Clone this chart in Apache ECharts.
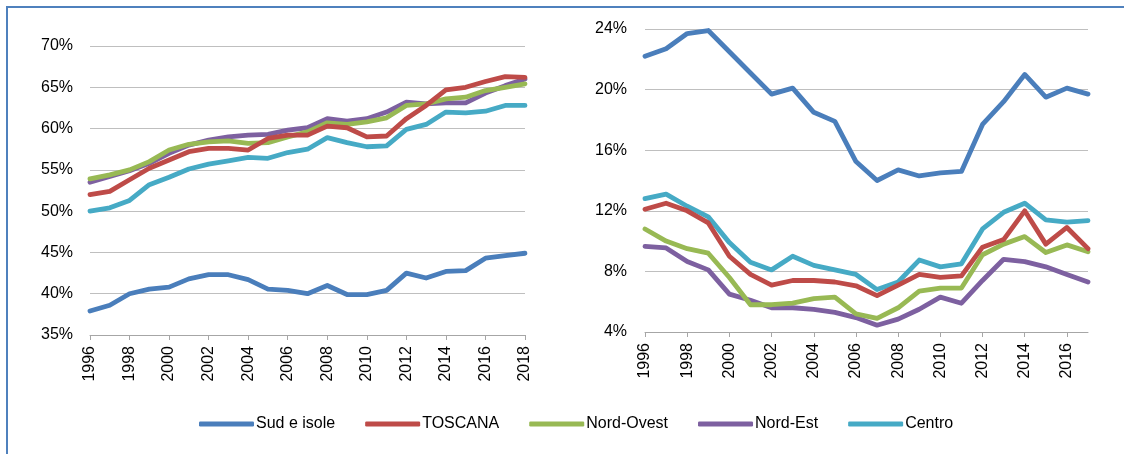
<!DOCTYPE html>
<html>
<head>
<meta charset="utf-8">
<script src="https://cdn.jsdelivr.net/npm/echarts@6/dist/echarts.min.js"></script>
<style>
  html, body { margin: 0; padding: 0; background: #fff; }
  #chart { width: 1124px; height: 454px; }
  #frame { position: absolute; left: 6px; top: 6px; width: 1130px; height: 460px;
           border-left: 2px solid #4F81BD; border-top: 2px solid #4F81BD; pointer-events: none; }
</style>
</head>
<body>
<div id="chart"></div>
<div id="frame"></div>
<script>
(function () {

    var FONT = "'Liberation Sans', Arial, sans-serif";

    // left panel: 1996-2018
    var yearsLeft = ['1996', '1997', '1998', '1999', '2000', '2001', '2002', '2003', '2004', '2005',
        '2006', '2007', '2008', '2009', '2010', '2011', '2012', '2013', '2014', '2015', '2016', '2017', '2018'];
    var sudLeft = [37.9, 38.6, 40.0, 40.55, 40.8, 41.8, 42.3, 42.3, 41.7, 40.55, 40.4, 40.0, 41.0,
        39.9, 39.9, 40.4, 42.5, 41.9, 42.7, 42.8, 44.3, 44.6, 44.9];
    var toscanaLeft = [52.0, 52.4, 53.8, 55.2, 56.2, 57.2, 57.6, 57.6, 57.4, 58.8, 59.2, 59.2, 60.3,
        60.1, 59.0, 59.1, 61.2, 62.8, 64.7, 65.0, 65.7, 66.3, 66.2];
    var ovestLeft = [53.9, 54.4, 55.0, 56.0, 57.4, 58.1, 58.4, 58.5, 58.2, 58.3, 59.0, 59.6, 60.7,
        60.5, 60.8, 61.3, 62.8, 63.0, 63.6, 63.8, 64.6, 65.0, 65.4];
    var estLeft = [53.5, 54.2, 54.9, 55.8, 57.0, 58.0, 58.6, 59.0, 59.2, 59.3, 59.8, 60.1, 61.2,
        60.9, 61.2, 62.0, 63.2, 63.0, 63.1, 63.1, 64.3, 65.2, 66.0];
    var centroLeft = [50.0, 50.4, 51.3, 53.2, 54.1, 55.1, 55.7, 56.1, 56.5, 56.4, 57.1, 57.5, 58.9,
        58.3, 57.8, 57.9, 59.9, 60.5, 62.0, 61.9, 62.1, 62.8, 62.8];

    // right panel: 1996-2017
    var yearsRight = ['1996', '1997', '1998', '1999', '2000', '2001', '2002', '2003', '2004', '2005',
        '2006', '2007', '2008', '2009', '2010', '2011', '2012', '2013', '2014', '2015', '2016', '2017'];
    var sudRight = [22.2, 22.7, 23.7, 23.9, 22.5, 21.1, 19.7, 20.1, 18.5, 17.9, 15.25, 14.0, 14.7,
        14.3, 14.5, 14.6, 17.7, 19.2, 21.0, 19.5, 20.1, 19.7];
    var toscanaRight = [12.1, 12.5, 12.0, 11.2, 9.0, 7.8, 7.1, 7.4, 7.4, 7.3, 7.05, 6.4, 7.1,
        7.8, 7.6, 7.7, 9.6, 10.1, 12.0, 9.8, 10.9, 9.5];
    var ovestRight = [10.8, 10.0, 9.5, 9.2, 7.6, 5.8, 5.8, 5.9, 6.2, 6.3, 5.2, 4.9, 5.6,
        6.7, 6.9, 6.9, 9.1, 9.8, 10.3, 9.25, 9.75, 9.3];
    var estRight = [9.65, 9.55, 8.65, 8.1, 6.5, 6.1, 5.6, 5.6, 5.5, 5.3, 4.95, 4.45, 4.85,
        5.5, 6.3, 5.9, 7.4, 8.8, 8.65, 8.3, 7.8, 7.3];
    var centroRight = [12.8, 13.1, 12.3, 11.6, 9.9, 8.6, 8.1, 9.0, 8.4, 8.1, 7.8, 6.8, 7.3,
        8.75, 8.3, 8.5, 10.8, 11.9, 12.5, 11.4, 11.25, 11.35];

    var names = ['Sud e isole', 'TOSCANA', 'Nord-Ovest', 'Nord-Est', 'Centro'];
    var colors = ['#4A7EBB', '#BE4B48', '#98B954', '#7D60A0', '#46AAC5'];

    var leftData = [sudLeft, toscanaLeft, ovestLeft, estLeft, centroLeft];
    var rightData = [sudRight, toscanaRight, ovestRight, estRight, centroRight];

    function xAxis(idx, years) {
        return {
            type: 'category',
            gridIndex: idx,
            data: years,
            boundaryGap: false,
            axisLine: { lineStyle: { color: '#A6A6A6', width: 1 } },
            axisTick: { show: true, interval: 1, length: 5, lineStyle: { color: '#A6A6A6' } },
            axisLabel: { interval: 1, rotate: 90, margin: 11, color: '#000', fontSize: 16, fontFamily: FONT },
            splitLine: { show: false }
        };
    }

    function yAxis(idx, min, max, step, margin) {
        return {
            type: 'value',
            gridIndex: idx,
            min: min,
            max: max,
            interval: step,
            axisLine: { show: false },
            axisTick: { show: false },
            axisLabel: { formatter: '{value}%', margin: margin, color: '#000', fontSize: 16, fontFamily: FONT },
            splitLine: { lineStyle: { color: '#BFBFBF', width: 1 } }
        };
    }

    var series = [];
    [leftData, rightData].forEach(function (set, g) {
        set.forEach(function (vals, i) {
            series.push({
                name: names[i],
                type: 'line',
                xAxisIndex: g,
                yAxisIndex: g,
                data: vals,
                showSymbol: false,
                symbol: 'none',
                z: 10 - i,
                lineStyle: { width: 4.8, color: colors[i], cap: 'round', join: 'round' },
                itemStyle: { color: colors[i] },
                animation: false
            });
        });
    });

    var myChart = echarts.init(document.getElementById('chart'), null, { renderer: 'canvas' });

    var option = {
        animation: false,
        textStyle: { fontFamily: FONT },
        grid: [
            { left: 90, right: 599, top: 46, bottom: 119 },
            { left: 645, right: 36, top: 29, bottom: 122 }
        ],
        legend: {
            data: names,
            left: 194,
            top: 411,
            icon: 'roundRect',
            itemWidth: 55,
            itemHeight: 5,
            itemGap: 30,
            textStyle: { fontSize: 16, color: '#000', fontFamily: FONT, padding: [0, 0, 0, -3] }
        },
        xAxis: [xAxis(0, yearsLeft), xAxis(1, yearsRight)],
        yAxis: [yAxis(0, 35, 70, 5, 17), yAxis(1, 4, 24, 4, 18)],
        series: series
    };

    myChart.setOption(option);
}());
</script>
</body>
</html>
